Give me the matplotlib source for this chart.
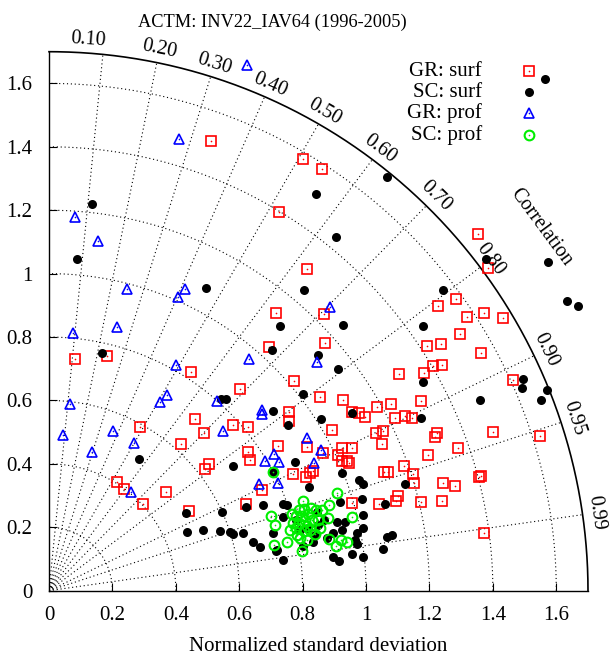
import numpy as np
import matplotlib
matplotlib.use('Agg')
import matplotlib.pyplot as plt

plt.rcParams['font.family'] = ['Liberation Serif', 'DejaVu Serif']

title = 'ACTM: INV22_IAV64 (1996-2005)'
xlabel = 'Normalized standard deviation'

corr_ticks = [0.1, 0.2, 0.3, 0.4, 0.5, 0.6, 0.7, 0.8, 0.9, 0.95, 0.99]
corr_labels = ['0.10', '0.20', '0.30', '0.40', '0.50', '0.60', '0.70', '0.80', '0.90', '0.95', '0.99']
std_rings = [0.2, 0.4, 0.6, 0.8, 1.0, 1.2, 1.4, 1.6]
std_max = 1.7
axis_ticks = [0, 0.2, 0.4, 0.6, 0.8, 1.0, 1.2, 1.4, 1.6]
axis_ticklabels = ['0', '0.2', '0.4', '0.6', '0.8', '1', '1.2', '1.4', '1.6']

# GR: surf (red squares)
gr_surf_x = [0.511, 0.801, 0.861, 0.726, 1.353, 1.385, 0.814, 1.284, 1.227, 1.319,
             1.372, 1.432, 1.297, 1.192, 1.237, 1.363, 1.211, 1.240, 1.183, 1.104,
             1.464, 1.401, 1.549, 1.363, 1.372, 0.716, 0.868, 0.694, 0.871, 0.082,
             0.183, 0.448, 0.773, 0.603, 0.855, 0.927, 0.956, 0.978, 0.997, 1.035,
             1.079, 1.174, 1.091, 1.123, 1.145, 0.893, 1.032, 1.054, 1.050, 1.224,
             1.218, 0.287, 0.461, 0.489, 0.416, 0.580, 0.628, 0.628, 0.634, 0.722,
             0.757, 0.757, 0.814, 0.505, 0.492, 0.215, 0.237, 0.297, 0.369, 0.442,
             0.621, 0.672, 0.770, 0.811, 0.823, 0.833, 0.864, 0.924, 0.956, 0.912,
             0.924, 0.940, 0.946, 1.196, 1.290, 1.057, 1.069, 1.120, 1.148, 1.151,
             1.243, 1.281, 1.356, 1.101, 1.095, 1.174, 1.240, 0.956, 1.041]
gr_surf_y = [1.419, 1.362, 1.330, 1.195, 1.125, 1.018, 1.015, 0.920, 0.898, 0.863,
             0.876, 0.860, 0.810, 0.772, 0.778, 0.750, 0.709, 0.712, 0.687, 0.684,
             0.665, 0.501, 0.488, 0.362, 0.182, 0.876, 0.873, 0.769, 0.781, 0.731,
             0.740, 0.690, 0.662, 0.636, 0.611, 0.602, 0.564, 0.561, 0.548, 0.579,
             0.589, 0.598, 0.545, 0.551, 0.545, 0.507, 0.497, 0.504, 0.463, 0.497,
             0.485, 0.516, 0.542, 0.497, 0.463, 0.523, 0.516, 0.438, 0.412, 0.456,
             0.564, 0.535, 0.453, 0.400, 0.384, 0.343, 0.321, 0.274, 0.311, 0.251,
             0.274, 0.318, 0.368, 0.359, 0.371, 0.378, 0.434, 0.450, 0.450, 0.428,
             0.409, 0.409, 0.403, 0.428, 0.450, 0.374, 0.374, 0.393, 0.368, 0.340,
             0.340, 0.330, 0.359, 0.299, 0.283, 0.280, 0.283, 0.277, 0.274]

# SC: surf (black dots)
sc_surf_x = [1.565, 1.066, 0.136, 0.842, 0.088, 0.905, 1.379, 1.574, 1.634, 1.669,
             1.243, 0.495, 0.804, 0.167, 0.927, 1.180, 0.729, 0.703, 0.849, 0.912,
             0.801, 0.543, 0.558, 0.707, 0.754, 0.858, 0.956, 1.180, 1.174, 1.360,
             1.495, 1.492, 1.571, 1.552, 0.284, 0.580, 0.707, 0.776, 0.924, 0.978,
             0.991, 1.123, 0.820, 1.060, 0.918, 0.987, 0.991, 0.909, 0.934, 0.991,
             0.924, 0.972, 0.965, 0.972, 0.896, 1.066, 1.082, 1.054, 0.956, 0.991,
             0.896, 0.915, 0.738, 0.675, 0.738, 0.845, 0.868, 0.877, 0.839, 0.644,
             0.666, 0.719, 0.801, 0.833, 0.738, 0.621, 0.751, 0.546, 0.539, 0.571,
             0.580, 0.612, 0.707, 0.716, 0.432, 0.435, 0.486, 0.849, 0.817, 0.779,
             0.792]
sc_surf_y = [1.614, 1.305, 1.220, 1.251, 1.046, 1.116, 1.046, 1.037, 0.914, 0.898,
             0.949, 0.955, 0.949, 0.750, 0.838, 0.835, 0.835, 0.759, 0.744, 0.699,
             0.621, 0.605, 0.605, 0.567, 0.523, 0.542, 0.561, 0.658, 0.545, 0.602,
             0.668, 0.639, 0.633, 0.602, 0.415, 0.393, 0.374, 0.406, 0.371, 0.349,
             0.337, 0.337, 0.327, 0.274, 0.280, 0.289, 0.239, 0.217, 0.217, 0.198,
             0.191, 0.182, 0.160, 0.147, 0.182, 0.169, 0.176, 0.132, 0.116, 0.106,
             0.106, 0.094, 0.274, 0.270, 0.232, 0.248, 0.223, 0.166, 0.176, 0.154,
             0.138, 0.128, 0.141, 0.154, 0.097, 0.264, 0.270, 0.248, 0.188, 0.185,
             0.179, 0.182, 0.182, 0.125, 0.245, 0.185, 0.191, 0.207, 0.198, 0.223,
             0.191]

# GR: prof (blue triangles)
gr_prof_x = [0.625, 0.410, 0.082, 0.155, 0.246, 0.429, 0.407, 0.076, 0.215, 0.401,
             0.631, 0.886, 0.845, 0.066, 0.044, 0.136, 0.202, 0.268, 0.259, 0.350,
             0.372, 0.530, 0.549, 0.672, 0.672, 0.681, 0.662, 0.710, 0.726, 0.722,
             0.836, 0.814, 0.858]
gr_prof_y = [1.658, 1.425, 1.179, 1.103, 0.952, 0.952, 0.926, 0.813, 0.832, 0.712,
             0.731, 0.895, 0.721, 0.589, 0.491, 0.438, 0.504, 0.466, 0.311, 0.595,
             0.617, 0.598, 0.504, 0.570, 0.557, 0.409, 0.337, 0.431, 0.406, 0.340,
             0.403, 0.482, 0.444]

# SC: prof (green circles)
sc_prof_x = [0.707, 0.909, 0.883, 0.801, 0.804, 0.826, 0.842, 0.789, 0.767, 0.700,
             0.713, 0.770, 0.798, 0.808, 0.830, 0.849, 0.880, 0.956, 0.789, 0.814,
             0.839, 0.782, 0.792, 0.814, 0.751, 0.710, 0.883, 0.905, 0.921, 0.940,
             0.798, 0.817, 0.779, 0.823, 0.855, 0.804, 0.760, 0.861, 0.779]
sc_prof_y = [0.374, 0.308, 0.270, 0.283, 0.258, 0.261, 0.255, 0.255, 0.242, 0.236,
             0.207, 0.214, 0.236, 0.223, 0.223, 0.223, 0.229, 0.232, 0.214, 0.204,
             0.179, 0.176, 0.166, 0.160, 0.154, 0.144, 0.163, 0.141, 0.160, 0.154,
             0.125, 0.242, 0.198, 0.191, 0.198, 0.188, 0.191, 0.255, 0.236]

series = [
    ('GR: surf', gr_surf_x, gr_surf_y, dict(marker='s', ms=7, mfc='none', mec='#ff0000', mew=1.2), '#ff0000'),
    ('SC: surf', sc_surf_x, sc_surf_y, dict(marker='o', ms=6.5, mfc='black', mec='black', mew=0), None),
    ('GR: prof', gr_prof_x, gr_prof_y, dict(marker='^', ms=7, mfc='none', mec='#0000ff', mew=1.2), '#0000ff'),
    ('SC: prof', sc_prof_x, sc_prof_y, dict(marker='o', ms=7, mfc='none', mec='#00ee00', mew=1.5), '#00ee00'),
]

fig = plt.figure(figsize=(6.1, 6.62), dpi=100)
ax = fig.add_axes([49 / 610, 71.3 / 662, 539 / 610, 539 / 662])
ax.set_xlim(0, std_max)
ax.set_ylim(0, std_max)
ax.spines['top'].set_visible(False)
ax.spines['right'].set_visible(False)
ax.spines['left'].set_linewidth(1.0)
ax.spines['bottom'].set_linewidth(1.0)

grid_style = dict(color='black', lw=0.8, ls=(0, (1, 2.5)))
theta = np.linspace(0, np.pi / 2, 300)
for r in std_rings:
    ax.plot(r * np.cos(theta), r * np.sin(theta), **grid_style)
for c in corr_ticks:
    a = np.arccos(c)
    ax.plot([0, std_max * np.cos(a)], [0, std_max * np.sin(a)], **grid_style)
ax.plot(std_max * np.cos(theta), std_max * np.sin(theta), color='black', lw=1.2, clip_on=False)

# correlation labels just outside the rim (0.10 nudged a bit counter-clockwise)
for c, lab in zip(corr_ticks, corr_labels):
    a = np.arccos(c)
    if lab == '0.10':
        a += np.radians(1.7)
    r = 1.742
    ax.text(r * np.cos(a), r * np.sin(a), lab, rotation=np.degrees(a) - 90,
            ha='center', va='center', fontsize=14.5, rotation_mode='anchor')
ax.text(1.93 * np.cos(np.radians(36.5)), 1.93 * np.sin(np.radians(36.5)), 'Correlation',
        rotation=36.5 - 90, ha='center', va='center', fontsize=14.5, rotation_mode='anchor')

for name, xs, ys, style, dot in series:
    ax.plot(xs, ys, ls='none', clip_on=False, **style)
    if dot:
        ax.plot(xs, ys, ls='none', marker='o', ms=1.2, mfc=dot, mec=dot, mew=0, clip_on=False)

# legend drawn by hand: text right-aligned, marker to the right
leg_y = [0.964, 0.925, 0.886, 0.845]
for (name, xs, ys, style, dot), yy in zip(series, leg_y):
    ax.text(0.803, yy, name, transform=ax.transAxes, ha='right', va='center', fontsize=15)
    ax.plot([0.8905], [yy], transform=ax.transAxes, ls='none', clip_on=False, **style)
    if dot:
        ax.plot([0.8905], [yy], transform=ax.transAxes, ls='none', marker='o', ms=1.2,
                mfc=dot, mec=dot, mew=0, clip_on=False)

ax.set_xticks(axis_ticks)
ax.set_xticklabels(axis_ticklabels)
ax.set_yticks(axis_ticks)
ax.set_yticklabels(axis_ticklabels)
ax.tick_params(direction='in', length=6, width=0.8, labelsize=15, top=False, right=False)
ax.tick_params(axis='x', pad=11)
ax.tick_params(axis='y', pad=12)
ax.set_xlabel(xlabel, fontsize=15, labelpad=9)

fig.text(272 / 610, 1 - 22 / 662, title, ha='center', va='center', fontsize=13.2)

fig.savefig('out.png', dpi=100)
